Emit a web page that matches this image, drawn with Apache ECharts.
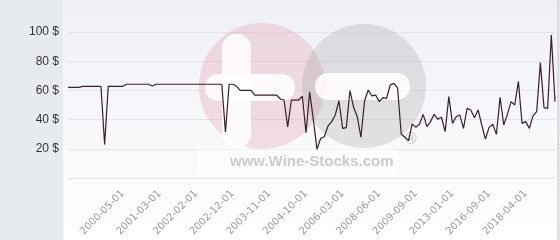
<!DOCTYPE html>
<html><head><meta charset="utf-8">
<script src="https://cdn.jsdelivr.net/npm/echarts@6/dist/echarts.min.js"></script>
<style>html,body{margin:0;padding:0;background:#fff}#c{width:560px;height:240px}</style>
</head><body><div id="c"></div>
<script>
var categories = [
'1999-02-01','1999-03-01','1999-04-01','1999-05-01','1999-06-01','1999-07-01','1999-08-01','1999-09-01','1999-10-01','1999-11-01',
'1999-12-01','2000-01-01','2000-02-01','2000-03-01','2000-04-01','2000-05-01','2000-06-01','2000-07-01','2000-08-01','2000-09-01',
'2000-10-01','2000-11-01','2000-12-01','2001-01-01','2001-02-01','2001-03-01','2001-04-01','2001-05-01','2001-06-01','2001-07-01',
'2001-09-01','2001-10-01','2001-11-01','2001-12-01','2002-01-01','2002-02-01','2002-03-01','2002-04-01','2002-05-01','2002-06-01',
'2002-07-01','2002-08-01','2002-09-01','2002-10-01','2002-11-01','2002-12-01','2003-01-01','2003-02-01','2003-03-01','2003-04-01',
'2003-05-01','2003-06-01','2003-08-01','2003-09-01','2003-10-01','2003-11-01','2003-12-01','2004-01-01','2004-02-01','2004-03-01',
'2004-04-01','2004-06-01','2004-07-01','2004-08-01','2004-09-01','2004-10-01','2004-12-01','2005-02-01','2005-03-01','2005-05-01',
'2005-07-01','2005-08-01','2005-10-01','2005-11-01','2006-01-01','2006-03-01','2006-06-01','2006-09-01','2006-12-01','2007-03-01',
'2007-06-01','2007-09-01','2007-11-01','2008-01-01','2008-03-01','2008-06-01','2008-07-01','2008-09-01','2008-10-01','2008-12-01',
'2009-01-01','2009-03-01','2009-04-01','2009-06-01','2009-07-01','2009-09-01','2009-12-01','2010-04-01','2010-08-01','2010-12-01',
'2011-04-01','2011-08-01','2011-12-01','2012-04-01','2012-09-01','2013-01-01','2013-05-01','2013-09-01','2014-01-01','2014-06-01',
'2014-10-01','2015-03-01','2015-07-01','2015-11-01','2016-04-01','2016-09-01','2016-11-01','2017-01-01','2017-03-01','2017-05-01',
'2017-07-01','2017-09-01','2017-11-01','2018-01-01','2018-02-01','2018-04-01','2018-06-01','2018-08-01','2018-10-01','2018-12-01',
'2019-02-01','2019-04-01','2019-06-01','2019-08-01'];

var prices = [
62.1,62.1,62.1,62.1,62.8,62.8,62.8,62.8,62.8,62.8,
23,62.8,62.8,62.8,62.8,62.8,64.2,64.2,64.2,64.2,
64.2,64.2,64.2,63,64.2,64.2,64.2,64.2,64.2,64.2,
64.2,64.2,64.2,64.2,64.2,64.2,64.2,64.2,64.2,64.2,
64.2,64.2,64.2,31.3,64.2,64.2,63,60,60,60,
60,56.7,56.7,56.7,56.7,56.7,56.7,56.7,54.1,53.4,
35,53.4,53.4,53.4,56,31,59,40,19.6,27.2,
28.3,35.6,38.6,43.2,52.9,34,34.5,59.8,48.4,42,
27.9,52.9,60.3,56.2,56.8,52.3,55,54.6,63.7,64.8,
61.8,30.1,27.9,25.6,37,34.7,37,43.6,35.2,38.6,
43.6,40.2,41.6,31.7,55.7,37.4,42,43.2,34,47.7,
46.6,41.3,46.6,36.3,26.7,34.7,36.8,29.9,55.3,36.3,
43.6,52.3,50,66,37.4,38.6,34,42.5,45.4,79,
48.2,47.7,97.9,52.3];

var yTicks = [0, 20, 40, 60, 80, 100];
var labelFirst = 15, labelStep = 10;

var chart = echarts.init(document.getElementById('c'), null, {renderer: 'canvas'});
chart.setOption({
  animation: false,
  graphic: [
    {type: 'rect', z: -10, silent: true, shape: {x: 0, y: 0, width: 560, height: 240}, style: {fill: '#e7ebee'}},
    {type: 'rect', z: -9, silent: true, shape: {x: 63, y: 0, width: 495, height: 240},
      style: {fill: new echarts.graphic.LinearGradient(0, 0, 0, 1, [{offset: 0, color: '#eef0f5'}, {offset: 1, color: '#ffffff'}])}},
    {type: 'rect', z: -9, silent: true, shape: {x: 557.5, y: 0, width: 1, height: 240}, style: {fill: '#c8c8c8'}},
    {type: 'rect', z: -9, silent: true, shape: {x: 63, y: 0, width: 1, height: 240}, style: {fill: '#f7f8fa'}},
    {type: 'rect', z: 1, silent: true, shape: {x: 198, y: 148, width: 200, height: 28}, style: {fill: 'rgba(255,255,255,0.5)'}},
    {type: 'circle', z: 1, silent: true, shape: {cx: 262, cy: 86, r: 63}, style: {fill: 'rgba(228,160,176,0.32)'}},
    {type: 'circle', z: 1, silent: true, shape: {cx: 364, cy: 86, r: 62}, style: {fill: 'rgba(160,160,160,0.28)'}},
    {type: 'rect', z: 1, silent: true, shape: {x: 222, y: 34, width: 29, height: 114, r: 14}, style: {fill: 'rgba(255,255,255,0.85)'}},
    {type: 'rect', z: 1, silent: true, shape: {x: 205, y: 74, width: 90, height: 27, r: 13}, style: {fill: 'rgba(255,255,255,0.85)'}},
    {type: 'rect', z: 1, silent: true, shape: {x: 315, y: 73, width: 95, height: 27, r: 13}, style: {fill: 'rgba(255,255,255,0.85)'}},
    {type: 'text', z: 1, silent: true, style: {x: 230, y: 154, text: 'www.Wine-Stocks.com', fill: 'rgba(195,195,195,0.85)', font: 'bold 15px "Liberation Sans", Arial, sans-serif'}},
    {type: 'text', z: 1, silent: true, style: {x: 405, y: 132, text: '\u00AE', fill: 'rgba(195,195,195,0.85)', font: 'bold 16px "Liberation Sans", Arial, sans-serif'}}
  ],
  grid: {left: 68, right: 5, top: 32, bottom: 62, containLabel: false},
  xAxis: {
    type: 'category', data: categories, boundaryGap: false,
    axisLine: {show: false}, axisTick: {show: false}, splitLine: {show: false},
    axisLabel: {
      rotate: 45, margin: 14, color: '#999', fontSize: 10, fontFamily: '"DejaVu Sans", sans-serif',
      interval: function (i) { return i >= labelFirst && (i - labelFirst) % labelStep === 0; }
    }
  },
  yAxis: {
    type: 'value', min: yTicks[0], max: yTicks[yTicks.length - 1], interval: 20,
    axisLine: {show: false}, axisTick: {show: false},
    splitLine: {lineStyle: {color: '#e4e4e4', width: 1}},
    axisLabel: {
      margin: 9, color: '#333', fontSize: 12, fontFamily: '"Liberation Sans", Arial, sans-serif',
      formatter: function (v) { return v === 0 ? '' : v + ' $'; }
    }
  },
  series: [{
    type: 'line', data: prices, z: 10, symbol: 'none',
    lineStyle: {color: '#3a1e2c', width: 1.2}
  }]
});
</script></body></html>
